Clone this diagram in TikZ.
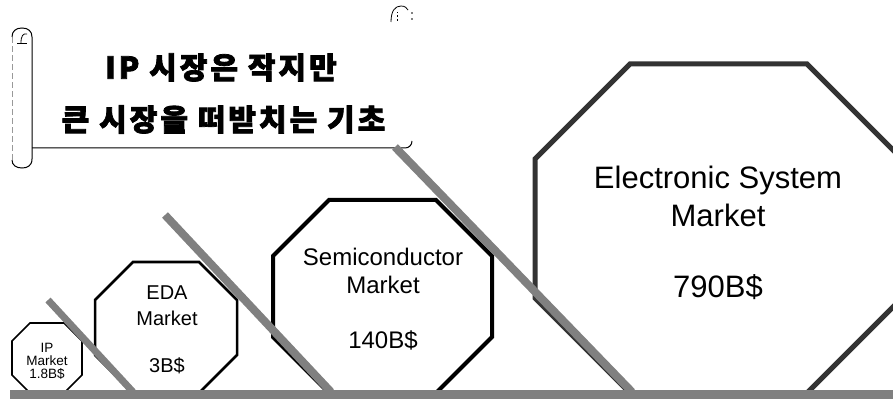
\documentclass[tikz,border=0pt]{standalone}
\usepackage{fontspec}
\setmainfont{Liberation Sans}
\newfontfamily\kofont{Noto Sans CJK KR}[LetterSpace=10, BoldFeatures={FakeBold=2.5}]

\tikzset{
  octline/.style={draw=black, fill=white, line join=miter},
  beam/.style={draw=black!50, line cap=butt},
  mkttext/.style 2 args={font=\fontsize{#1}{#2}\selectfont, align=center, inner sep=0pt},
  headline/.style={font=\kofont\bfseries\fontsize{30}{36}\selectfont, inner sep=0pt}
}

% octagon from its bounding box: [style]{x1}{y1}{x2}{y2}{chamfer}
\newcommand{\octa}[6][]{%
  \draw[#1] ({#2+#6},#3) -- ({#4-#6},#3) -- (#4,{#3+#6}) -- (#4,{#5-#6})
    -- ({#4-#6},#5) -- ({#2+#6},#5) -- (#2,{#5-#6}) -- (#2,{#3+#6}) -- cycle;}

\begin{document}
\begin{tikzpicture}[x=1pt, y=1pt]
    \useasboundingbox (0,0) rectangle (893,399);
    \clip (0,0) rectangle (893,399);

    % Title scroll
    \draw[line width=1pt] (32,362) -- (32,240) .. controls (32,233) and (27,231) .. (22,231)
        .. controls (16,231) and (12,234) .. (12,239);
    \draw[black!40, line width=0.8pt, dash pattern=on 6pt off 3pt] (12,239) -- (12,362);
    \draw[line width=1pt] (12,362) .. controls (12,368) and (16,371) .. (22,371)
        .. controls (28,371) and (32,368) .. (32,362);
    \draw[line width=0.8pt] (17,356) -- (27,356);
    \draw[line width=0.8pt] (21,356) .. controls (21,363) and (23,366) .. (27,365);
    \draw[line width=1pt] (32,251) -- (405,251) .. controls (409,251) and (412,254) .. (412,258);
    \draw[line width=0.8pt] (391,377) .. controls (391,388) and (395,393) .. (401,393)
        .. controls (405,393) and (407,391) .. (408,389);
    \draw[line width=0.8pt, dash pattern=on 2pt off 2pt] (397,378) -- (397,387);
    \fill (412,386) circle (0.8) (412,380) circle (0.8);

    \node[headline] (title1) at (221,331.5) {IP 시장은 작지만};
    \node[headline] (title2) at (223.5,279.5) {큰 시장을 떠받치는 기초};

    % Markets
    \octa[octline, line width=1.6pt]{12}{6}{82}{76}{18}
    \octa[octline, line width=2.5pt]{95}{6}{237}{137}{38}
    \octa[octline, line width=4pt]{273}{6}{492}{199}{56}
    \octa[octline, draw=black!80, line width=5pt]{535}{6}{902}{335}{95}

    \node[mkttext={13.5}{13}] (iptxt) at (47,38) {IP\\Market\\1.8B\$};
    \node[mkttext={20}{26}] (edaname) at (167,93) {EDA\\Market};
    \node[mkttext={20}{26}] (edaval) at (167,33) {3B\$};
    \node[mkttext={24}{28}] (seminame) at (383,128) {Semiconductor\\Market};
    \node[mkttext={24}{28}] (semival) at (383,59) {140B\$};
    \node[mkttext={31}{38}] (elecname) at (718,203) {Electronic System\\Market};
    \node[mkttext={31}{38}] (elecval) at (718,112) {790B\$};

    % Supports and ground
    \draw[beam, line width=7pt] (48,99) -- (133,7);
    \draw[beam, line width=8pt] (165,184) -- (331,7);
    \draw[beam, line width=8pt] (395,252) -- (632,7);
    \fill[black!50] (10,0) rectangle (893,9);
\end{tikzpicture}
\end{document}
